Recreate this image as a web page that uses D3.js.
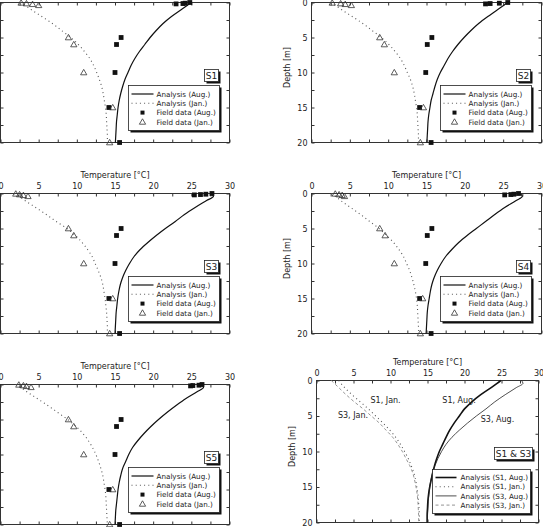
<!DOCTYPE html>
<html>
<head>
<meta charset="utf-8">
<script src="https://cdn.jsdelivr.net/npm/d3@7"></script>
<style>
body { margin: 0; background: #fff; }
svg text { font-family: "DejaVu Sans", sans-serif; fill: #222; }
</style>
</head>
<body>
<div id="chart"></div>
<script>
// Width and height
var chartWidth  = 543;
var chartHeight = 527;

// ---- data (temperature in degC, depth in m) ----
var tempTicks  = [0, 5, 10, 15, 20, 25, 30];
var depthTicks = [0, 5, 10, 15, 20];

// depths at which the analysis curves were read
var curveDepths = [0, 0.4, 1, 2, 3, 4, 5, 6, 7, 8, 9, 10, 11, 12, 13, 14, 15, 16, 17, 18, 19, 20];

var augS1 = [25.0, 24.5, 23.7, 22.4, 21.3, 20.4, 19.6, 18.9, 18.2, 17.6, 17.1, 16.7, 16.3, 16.0, 15.75, 15.55, 15.4, 15.3, 15.2, 15.15, 15.1, 15.05];
var augS2 = [25.6, 25.1, 24.3, 23.0, 21.8, 20.8, 19.9, 19.1, 18.4, 17.8, 17.3, 16.8, 16.4, 16.1, 15.85, 15.6, 15.45, 15.3, 15.2, 15.15, 15.1, 15.05];
var augS3 = [27.6, 27.9, 27.0, 25.5, 24.1, 22.9, 21.6, 20.4, 19.3, 18.3, 17.5, 16.9, 16.4, 16.0, 15.7, 15.5, 15.35, 15.25, 15.15, 15.1, 15.05, 15.0];
var augS4 = [27.2, 27.5, 26.7, 25.2, 23.9, 22.7, 21.5, 20.3, 19.2, 18.3, 17.5, 16.9, 16.4, 16.0, 15.7, 15.5, 15.35, 15.2, 15.1, 15.05, 15.0, 14.95];
var augS5 = [26.3, 26.6, 25.8, 24.3, 23.0, 21.8, 20.7, 19.7, 18.8, 18.0, 17.3, 16.8, 16.4, 16.0, 15.75, 15.55, 15.4, 15.3, 15.2, 15.1, 15.05, 15.0];

var janS1 = [2.6, 3.2, 4.0, 5.4, 6.8, 8.0, 9.2, 10.2, 11.0, 11.7, 12.2, 12.6, 12.95, 13.25, 13.45, 13.6, 13.75, 13.85, 13.9, 13.95, 14.0, 14.0];
var janS2 = [2.5, 3.1, 3.9, 5.3, 6.7, 7.9, 9.1, 10.1, 10.9, 11.6, 12.1, 12.5, 12.9, 13.2, 13.4, 13.55, 13.7, 13.8, 13.85, 13.9, 13.95, 13.95];
var janS3 = [1.8, 2.4, 3.2, 4.6, 6.0, 7.3, 8.7, 9.8, 10.7, 11.4, 12.0, 12.4, 12.8, 13.15, 13.4, 13.55, 13.7, 13.8, 13.9, 13.95, 14.0, 14.0];
var janS4 = [2.6, 3.1, 3.8, 5.1, 6.4, 7.6, 8.8, 9.8, 10.7, 11.4, 12.0, 12.4, 12.8, 13.1, 13.35, 13.55, 13.7, 13.8, 13.85, 13.9, 13.95, 14.0];
var janS5 = [2.0, 2.6, 3.4, 4.8, 6.2, 7.5, 8.8, 9.9, 10.8, 11.5, 12.05, 12.5, 12.85, 13.15, 13.4, 13.55, 13.7, 13.8, 13.85, 13.9, 13.95, 14.0];

// curves as drawn in the S1 & S3 comparison panel
var cmpS1Aug = [24.9, 24.4, 23.6, 22.2, 21.0, 20.0, 19.3, 18.6, 18.0, 17.5, 17.05, 16.6, 16.25, 15.95, 15.7, 15.5, 15.3, 15.15, 15.05, 15.0, 14.95, 14.95];
var cmpS1Jan = [3.0, 3.3, 3.8, 4.8, 5.9, 7.0, 8.0, 9.0, 9.9, 10.7, 11.35, 11.9, 12.4, 12.8, 13.15, 13.4, 13.55, 13.7, 13.78, 13.85, 13.9, 13.9];
var cmpS3Aug = [27.7, 27.9, 27.0, 25.5, 24.1, 22.9, 21.6, 20.4, 19.3, 18.3, 17.5, 16.9, 16.4, 16.0, 15.7, 15.45, 15.3, 15.2, 15.1, 15.05, 15.0, 15.0];
var cmpS3Jan = [2.0, 2.4, 3.0, 4.0, 5.1, 6.3, 7.4, 8.5, 9.4, 10.3, 11.0, 11.6, 12.1, 12.6, 13.0, 13.25, 13.45, 13.6, 13.7, 13.75, 13.8, 13.8];

// field measurements
var fieldAugDepths = [0.2, 0.15, 0.1, 0, 5, 6, 10, 15, 20];
var fieldAugS1 = [23.0, 23.9, 24.2, 24.8, 15.8, 15.2, 15.0, 14.2, 15.6];
var fieldAugS2 = [22.7, 23.3, 24.5, 25.6, 15.7, 15.1, 14.9, 14.1, 15.6];
var fieldAugS3 = [25.4, 26.2, 26.9, 27.7, 15.8, 15.2, 15.0, 14.2, 15.6];
var fieldAugS4 = [25.2, 26.0, 26.4, 27.0, 15.7, 15.1, 14.9, 14.1, 15.6];
var fieldAugS5 = [24.9, 25.2, 26.0, 26.4, 15.8, 15.2, 15.0, 14.2, 15.6];

var fieldJanDepths = [0.05, 0.15, 0.25, 0.4, 5, 6, 10, 15, 20];
var fieldJanS1 = [2.7, 3.4, 4.2, 5.0, 8.9, 9.6, 10.9, 14.7, 14.3];
var fieldJanS2 = [2.7, 3.8, 4.4, 5.2, 8.9, 9.5, 10.8, 14.6, 14.2];
var fieldJanS3 = [2.0, 2.5, 3.0, 3.6, 8.9, 9.6, 10.9, 14.7, 14.3];
var fieldJanS4 = [3.1, 3.6, 4.0, 4.3, 8.9, 9.6, 10.8, 14.5, 14.2];
var fieldJanS5 = [2.4, 3.0, 3.4, 4.0, 8.9, 9.6, 10.9, 14.7, 14.3];

var legendLabels  = ['Analysis (Aug.)', 'Analysis (Jan.)', 'Field data (Aug.)', 'Field data (Jan.)'];
var cmpLegend     = ['Analysis (S1, Aug.)', 'Analysis (S1, Jan.)', 'Analysis (S3, Aug.)', 'Analysis (S3, Jan.)'];
var cmpNotes      = ['S1, Jan.', 'S3, Jan.', 'S1, Aug.', 'S3, Aug.'];
var cmpNoteTemp   = [7.3, 2.9, 17.0, 22.2];
var cmpNoteDepth  = [3.1, 5.35, 3.1, 5.8];

// ---- layout ----
// the figure is cropped: panels touching the top / left edge lose those labels
var panels = [
    {site: 'S1', x: 0,   y: 2,   w: 229, h: 140, aug: augS1, jan: janS1, fa: fieldAugS1, fj: fieldJanS1},
    {site: 'S2', x: 311, y: 2,   w: 230, h: 140, aug: augS2, jan: janS2, fa: fieldAugS2, fj: fieldJanS2},
    {site: 'S3', x: 0,   y: 193, w: 229, h: 140, aug: augS3, jan: janS3, fa: fieldAugS3, fj: fieldJanS3},
    {site: 'S4', x: 311, y: 193, w: 230, h: 140, aug: augS4, jan: janS4, fa: fieldAugS4, fj: fieldJanS4},
    {site: 'S5', x: 0,   y: 384, w: 229, h: 140, aug: augS5, jan: janS5, fa: fieldAugS5, fj: fieldJanS5}
];
var cmpPanel = {site: 'S1 & S3', x: 316, y: 380, w: 222, h: 142};

var svg = d3.select('#chart')
    .append('svg')
    .attr('width', chartWidth)
    .attr('height', chartHeight);

function zip(temps, depths) {
    return temps.map(function(t, i){ return [t, depths[i]]; });
}

// frame, ticks and labels of one panel; returns the scales
function drawFrame(p) {
    var g = svg.append('g').attr('transform', 'translate(' + (p.x + 0.5) + ',' + (p.y + 0.5) + ')');
    var x = d3.scaleLinear().domain([0, 30]).range([0, p.w]);
    var y = d3.scaleLinear().domain([0, 20]).range([0, p.h]);

    var showTop  = p.y > 20;
    var showLeft = p.x > 20;

    var minorT = d3.range(0, 30.01, 2.5);
    var minorD = d3.range(0, 20.01, 2.5);
    var fmtT = function(d){ return showTop && tempTicks.indexOf(d) >= 0 ? d : ''; };
    var fmtD = function(d){ return showLeft && depthTicks.indexOf(d) >= 0 ? d : ''; };

    g.append('g').attr('class', 'ax')
        .call(d3.axisTop(x).tickValues(minorT).tickSize(-3).tickSizeOuter(0).tickPadding(5).tickFormat(fmtT));
    g.append('g').attr('class', 'ax').attr('transform', 'translate(0,' + p.h + ')')
        .call(d3.axisBottom(x).tickValues(minorT).tickSize(-3).tickSizeOuter(0).tickFormat(''));
    g.append('g').attr('class', 'ax')
        .call(d3.axisLeft(y).tickValues(minorD).tickSize(-3).tickSizeOuter(0).tickPadding(4).tickFormat(fmtD));
    g.append('g').attr('class', 'ax').attr('transform', 'translate(' + p.w + ',0)')
        .call(d3.axisRight(y).tickValues(minorD).tickSize(-3).tickSizeOuter(0).tickFormat(''));

    g.selectAll('.ax .domain').remove();
    g.selectAll('.ax text').filter(function(){ return this.textContent === ''; }).remove();
    g.selectAll('.ax line').attr('stroke', '#333');
    g.selectAll('.ax text').attr('font-size', 8).attr('font-family', '"DejaVu Sans", sans-serif').attr('fill', '#222');

    g.append('rect')
        .attr('width', p.w).attr('height', p.h)
        .attr('fill', 'none').attr('stroke', '#333').attr('stroke-width', 1);

    if (showTop) {
        g.append('text')
            .attr('x', p.w / 2).attr('y', -16)
            .attr('text-anchor', 'middle').attr('font-size', 8)
            .text('Temperature [\u00b0C]');
    }
    if (showLeft) {
        g.append('text')
            .attr('transform', 'translate(-22,' + (p.h / 2 - 5) + ') rotate(-90)')
            .attr('text-anchor', 'middle').attr('font-size', 8)
            .text('Depth [m]');
    }

    return {g: g, x: x, y: y};
}

function siteBox(g, p, label, bw) {
    var bx = p.w - 11 - bw, by = 67, bh = 12;
    g.append('rect').attr('x', bx + 2).attr('y', by + 2).attr('width', bw).attr('height', bh).attr('fill', '#111');
    g.append('rect').attr('x', bx).attr('y', by).attr('width', bw).attr('height', bh)
        .attr('fill', '#fff').attr('stroke', '#222').attr('stroke-width', 0.8);
    g.append('text').attr('x', bx + bw / 2).attr('y', by + 9.5)
        .attr('text-anchor', 'middle').attr('font-size', 9).text(label);
}

function legendBox(g, bx, by, bw, bh) {
    g.append('rect').attr('x', bx + 2).attr('y', by + 2).attr('width', bw).attr('height', bh).attr('fill', '#111');
    g.append('rect').attr('x', bx).attr('y', by).attr('width', bw).attr('height', bh)
        .attr('fill', '#fff').attr('stroke', '#222').attr('stroke-width', 0.8);
}

var tri = d3.symbol().type(d3.symbolTriangle).size(17);

panels.forEach(function(p){
    var f = drawFrame(p), g = f.g, x = f.x, y = f.y;
    var line = d3.line()
        .x(function(d){ return x(d[0]); })
        .y(function(d){ return y(d[1]); })
        .curve(d3.curveMonotoneY);

    g.append('path').datum(zip(p.jan, curveDepths))
        .attr('d', line).attr('fill', 'none')
        .attr('stroke', '#555').attr('stroke-width', 1.1).attr('stroke-dasharray', '1,3.2');
    g.append('path').datum(zip(p.aug, curveDepths))
        .attr('d', line).attr('fill', 'none')
        .attr('stroke', '#111').attr('stroke-width', 1.2);

    g.selectAll('rect.fa').data(zip(p.fa, fieldAugDepths)).enter()
        .append('rect').attr('class', 'fa')
        .attr('x', function(d){ return x(d[0]) - 2.4; })
        .attr('y', function(d){ return y(d[1]) - 2.4; })
        .attr('width', 4.8).attr('height', 4.8)
        .attr('fill', '#111');
    g.selectAll('path.fj').data(zip(p.fj, fieldJanDepths)).enter()
        .append('path').attr('class', 'fj')
        .attr('transform', function(d){ return 'translate(' + x(d[0]) + ',' + (y(d[1]) + 0.5) + ')'; })
        .attr('d', tri)
        .attr('fill', 'none').attr('stroke', '#333').attr('stroke-width', 0.8);

    siteBox(g, p, p.site, 14);

    // legend
    var bx = p.w - 101, by = 83;
    legendBox(g, bx, by, 91, 45);
    legendLabels.forEach(function(lbl, i){
        var cy = by + 8.5 + i * 9.3;
        if (i === 0) {
            g.append('line').attr('x1', bx + 3).attr('x2', bx + 25).attr('y1', cy).attr('y2', cy)
                .attr('stroke', '#111').attr('stroke-width', 1.2);
        } else if (i === 1) {
            g.append('line').attr('x1', bx + 3).attr('x2', bx + 25).attr('y1', cy).attr('y2', cy)
                .attr('stroke', '#555').attr('stroke-width', 1.1).attr('stroke-dasharray', '1,3.2');
        } else if (i === 2) {
            g.append('rect').attr('x', bx + 12).attr('y', cy - 2).attr('width', 4).attr('height', 4).attr('fill', '#111');
        } else {
            g.append('path').attr('transform', 'translate(' + (bx + 14) + ',' + (cy + 0.5) + ')')
                .attr('d', tri).attr('fill', 'none').attr('stroke', '#333').attr('stroke-width', 0.8);
        }
        g.append('text').attr('x', bx + 28).attr('y', cy + 2.6)
            .attr('font-size', 7.2).text(lbl);
    });
});

// comparison panel S1 & S3
(function(){
    var p = cmpPanel;
    var f = drawFrame(p), g = f.g, x = f.x, y = f.y;
    var line = d3.line()
        .x(function(d){ return x(d[0]); })
        .y(function(d){ return y(d[1]); })
        .curve(d3.curveMonotoneY);

    var styles = [
        {data: cmpS1Aug, stroke: '#111', width: 1.6, dash: null},
        {data: cmpS1Jan, stroke: '#555', width: 1.1, dash: '1,3.2'},
        {data: cmpS3Aug, stroke: '#222', width: 0.8, dash: null},
        {data: cmpS3Jan, stroke: '#888', width: 0.9, dash: '3,2.5'}
    ];
    styles.forEach(function(s){
        g.append('path').datum(zip(s.data, curveDepths))
            .attr('d', line).attr('fill', 'none')
            .attr('stroke', s.stroke).attr('stroke-width', s.width)
            .attr('stroke-dasharray', s.dash);
    });

    cmpNotes.forEach(function(n, i){
        g.append('text').attr('x', x(cmpNoteTemp[i])).attr('y', y(cmpNoteDepth[i]))
            .attr('font-size', 8).text(n);
    });

    siteBox(g, {w: p.w + 5}, p.site, 38);

    var bx = p.w - 106, by = 89;
    legendBox(g, bx, by, 98, 44);
    cmpLegend.forEach(function(lbl, i){
        var cy = by + 8 + i * 9.2, s = styles[i];
        g.append('line').attr('x1', bx + 3).attr('x2', bx + 24).attr('y1', cy).attr('y2', cy)
            .attr('stroke', s.stroke).attr('stroke-width', s.width).attr('stroke-dasharray', s.dash);
        g.append('text').attr('x', bx + 28).attr('y', cy + 2.6)
            .attr('font-size', 7.2).text(lbl);
    });
})();
</script>
</body>
</html>
